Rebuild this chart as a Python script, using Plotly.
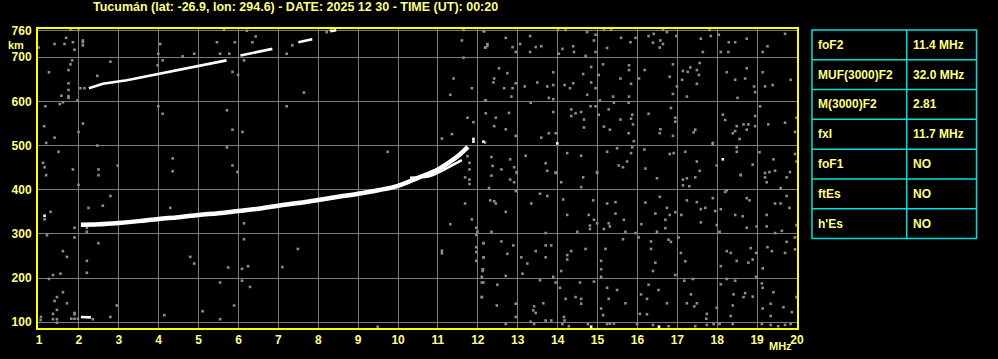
import plotly.graph_objects as go

# ---------------- data ----------------
title_text = "Tucumán (lat: -26.9, lon: 294.6) - DATE: 2025 12 30 - TIME (UT): 00:20"

x_ticks = list(range(1, 21))
y_ticks = [100, 200, 300, 400, 500, 600, 700, 760]

# main F-layer echo (MHz, km)
f_trace_mhz = [2.05, 2.5, 3.0, 3.5, 4.0, 4.5, 5.0, 5.5, 6.0, 6.5, 7.0, 7.5, 8.0, 8.5,
               9.0, 9.5, 10.0, 10.5, 11.0, 11.3, 11.55, 11.75]
f_trace_km = [321, 322, 325, 329, 334, 338, 343, 347, 352, 357, 364, 370, 377, 384,
              391, 399, 409, 427, 446, 463, 480, 497]

# split (extraordinary) branch
x_trace_mhz = [10.3, 10.8, 11.1, 11.35, 11.6]
x_trace_km = [427, 431, 443, 455, 467]

# second-hop echo
f2_trace_mhz = [2.25, 2.6, 3.2, 3.7, 4.3, 4.7, 5.1, 5.5, 5.7, None,
                6.05, 6.45, 6.85, None, 7.5, 7.85, None, 8.3, 8.45]
f2_trace_km = [630, 640, 648, 657, 669, 676, 683, 690, 693, None,
               704, 711, 719, None, 734, 741, None, 759, 761]

# low echo near 2 MHz
low_mhz = [2.05, 2.3]
low_km = [112, 111]

# bright isolated returns
bright_points = [(12.14, 509), (13.99, 505), (18.14, 469), (14.84, 90), (16.54, 90),
                 (1.14, 341), (11.89, 515), (11.89, 509)]

# grey noise returns (MHz, km)
noise_points = [
    (12.14, 759), (12.24, 730), (12.24, 726), (12.7, 744), (12.87, 723), (12.95, 712), (12.2, 722),
    (13.06, 730), (13.31, 748), (13.31, 712), (13.45, 723), (13.59, 725), (14.01, 762), (14.2, 762),
    (14.03, 708), (14.12, 719), (14.39, 725), (14.41, 712), (14.74, 757), (14.95, 751), (14.95, 712),
    (14.91, 738), (14.7, 703), (15.16, 762), (15.34, 762), (15.24, 721), (15.59, 744), (15.825, 734),
    (15.95, 744), (16.28, 748), (16.41, 753), (16.39, 733), (16.575, 738), (16.64, 730), (16.64, 762),
    (16.74, 757), (16.56, 722), (16.975, 748), (17.59, 742), (17.81, 762), (17.84, 748), (17.64, 712),
    (18.04, 751), (18.29, 734), (18.45, 734), (18.74, 742), (18.09, 712), (18.28, 712), (19.14, 712),
    (19.26, 725), (19.7, 753),
    (12.2, 602), (12.53, 675), (12.74, 664), (12.41, 652), (12.39, 643), (12.66, 630), (12.87, 630),
    (12.84, 611), (12.95, 641), (13.175, 634), (13.49, 643), (13.74, 634), (13.89, 666), (13.89, 637),
    (13.78, 608), (13.89, 605), (14.175, 637), (14.31, 630), (14.39, 641), (14.64, 662), (14.74, 615),
    (14.84, 678), (14.84, 643), (14.95, 630), (15.03, 660), (15.14, 684), (15.06, 602), (15.39, 611),
    (15.575, 652), (15.79, 682), (15.79, 671), (15.84, 640), (15.79, 611), (16.04, 652), (16.18, 671),
    (16.89, 684), (16.81, 656), (16.89, 617), (16.99, 634), (17.14, 669), (17.26, 667), (17.325, 677),
    (17.49, 671), (17.56, 687), (17.54, 660), (17.49, 640), (17.24, 611), (17.12, 649), (18.24, 666),
    (18.45, 649), (18.7, 652), (18.74, 675), (18.925, 634), (18.95, 621), (18.51, 608), (19.14, 666),
    (19.2, 634), (19.39, 637), (19.84, 649),
    (12.2, 573), (12.45, 563), (12.41, 544), (12.78, 574), (12.7, 537), (12.95, 522), (13.325, 597),
    (13.59, 518), (13.78, 528), (13.89, 576), (13.95, 528), (14.34, 582), (14.34, 567), (14.45, 573),
    (14.59, 576), (14.66, 559), (14.66, 541), (14.825, 589), (14.95, 589), (15.03, 570), (15.16, 543),
    (15.28, 582), (15.31, 536), (15.41, 597), (15.575, 559), (15.78, 597), (15.84, 561), (15.89, 548),
    (15.87, 570), (15.78, 528), (15.91, 510), (16.28, 572), (16.575, 537), (16.56, 528), (16.84, 585),
    (16.95, 563), (16.95, 554), (16.89, 522), (17.41, 530), (17.45, 536), (17.89, 506), (18.14, 570),
    (18.2, 558), (18.49, 544), (18.66, 548), (18.78, 548), (18.95, 544), (18.95, 567), (18.45, 533),
    (18.39, 528), (18.56, 515), (18.74, 536), (19.075, 589), (19.28, 548), (19.7, 552), (19.95, 531),
    (19.99, 563),
    (12.34, 474), (12.37, 454), (12.59, 446), (12.81, 469), (12.91, 451), (12.975, 440), (13.2, 477),
    (13.7, 460), (13.74, 443), (13.95, 439), (14.24, 483), (14.59, 477), (14.99, 440), (15.24, 486),
    (15.49, 494), (15.53, 455), (15.64, 451), (15.74, 464), (15.84, 483), (15.87, 496), (16.175, 491),
    (16.2, 448), (16.81, 481), (16.91, 483), (17.2, 486), (17.49, 464), (17.56, 443), (17.89, 504),
    (17.99, 455), (18.49, 486), (18.49, 496), (18.59, 434), (18.89, 457), (19.06, 485), (19.2, 438),
    (19.31, 440), (19.41, 469), (19.45, 443), (19.825, 440), (19.95, 481), (19.99, 464),
    (12.34, 432), (12.81, 423), (12.91, 417), (12.975, 438), (12.28, 404), (12.95, 397), (13.95, 438),
    (14.09, 417), (14.59, 406), (14.64, 428), (14.99, 438), (16.49, 426), (17.14, 423), (17.24, 426),
    (17.14, 410), (17.45, 428), (17.3, 408), (18.59, 433), (19.2, 428), (19.74, 428), (19.24, 417),
    (19.59, 404),
    (12.31, 376), (12.41, 374), (12.45, 369), (12.7, 350), (13.34, 369), (13.56, 391), (13.74, 386),
    (12.34, 305), (13.7, 302), (14.14, 378), (14.24, 343), (14.49, 305), (14.78, 343), (14.89, 376),
    (14.91, 332), (14.99, 324), (14.81, 319), (14.81, 311), (15.24, 369), (15.45, 372), (15.45, 346),
    (15.28, 324), (15.31, 317), (15.66, 332), (15.16, 311), (15.7, 305), (15.95, 302), (16.2, 371),
    (16.1, 322), (16.45, 346), (16.56, 384), (16.74, 359), (16.81, 343), (16.7, 332), (16.7, 313),
    (16.95, 349), (16.49, 305), (17.1, 343), (17.24, 376), (17.49, 372), (17.59, 356), (17.7, 359),
    (17.89, 381), (17.95, 352), (17.59, 326), (17.99, 320), (18.06, 305), (18.24, 399), (18.2, 395),
    (18.09, 356), (18.45, 343), (18.64, 340), (18.74, 381), (18.81, 376), (18.74, 314), (18.99, 317),
    (19.24, 343), (19.24, 317), (19.45, 369), (19.59, 369), (19.74, 386), (19.81, 359), (19.45, 302),
    (19.62, 307), (19.99, 320),
    (12.14, 279), (12.59, 283), (12.89, 274), (12.74, 255), (12.14, 247), (12.12, 220), (12.12, 216),
    (12.7, 205), (13.09, 247), (13.24, 233), (13.12, 210), (13.45, 261), (13.7, 274), (13.84, 274),
    (13.7, 247), (13.89, 203), (14.34, 261), (14.24, 252), (14.24, 242), (14.09, 216), (14.7, 266),
    (15.2, 266), (15.09, 239), (15.09, 220), (15.09, 203), (15.64, 288), (16.03, 292), (16.34, 283),
    (16.34, 266), (16.78, 287), (16.84, 282), (16.45, 235), (16.39, 216), (16.95, 207), (17.03, 292),
    (17.09, 257), (17.2, 238), (18.24, 261), (18.34, 257), (18.09, 227), (18.49, 239), (18.84, 268),
    (18.89, 242), (18.78, 235), (18.975, 257), (18.975, 203), (19.14, 222), (19.26, 270), (19.37, 261),
    (19.7, 257), (19.74, 282), (19.95, 265), (19.95, 292),
    (12.14, 190), (12.49, 185), (12.1, 157), (12.475, 138), (12.95, 142), (12.95, 112), (13.56, 195),
    (13.95, 190), (14.06, 178), (13.41, 136), (13.39, 127), (13.45, 121), (13.64, 143), (13.325, 101),
    (13.7, 104), (13.84, 104), (14.16, 112), (14.175, 104), (14.2, 153), (14.45, 157), (14.59, 153),
    (14.59, 142), (14.56, 190), (14.91, 192), (15.24, 178), (15.49, 173), (15.28, 153), (15.09, 131),
    (15.14, 116), (15.7, 143), (15.31, 97), (16.09, 163), (16.24, 153), (16.28, 185), (16.53, 173),
    (16.06, 119), (16.24, 118), (16.74, 143), (17.175, 194), (17.39, 198), (17.34, 163), (17.24, 143),
    (17.49, 143), (17.425, 136), (17.74, 119), (17.99, 133), (17.725, 108), (18.09, 186), (18.24, 198),
    (18.45, 194), (18.41, 163), (18.7, 166), (18.89, 158), (18.66, 157), (18.39, 138), (18.34, 114),
    (19.12, 188), (19.14, 178), (19.41, 168), (19.34, 142), (19.14, 131), (19.66, 134), (19.34, 114),
    (19.87, 123), (19.99, 157),
    (12.7, 96), (13.41, 96), (14.12, 96), (14.28, 91), (14.76, 96), (15.24, 96), (15.41, 97),
    (15.99, 96), (16.39, 94), (16.78, 91), (17.45, 91), (17.74, 94), (17.91, 96), (18.06, 96),
    (18.39, 96), (19.12, 96), (19.34, 94), (19.53, 91), (19.7, 94), (19.84, 96),
    (1.79, 762), (1.99, 762), (2.1, 738), (2.1, 734), (2.1, 727), (1.85, 734), (1.68, 744), (1.39, 730),
    (1.64, 730), (1.89, 717), (0.99, 722), (1.83, 693), (1.79, 684), (1.74, 671), (1.25, 666),
    (1.74, 641), (1.74, 626), (1.74, 608), (1.74, 612), (1.56, 613), (1.52, 594), (1.6, 598),
    (1.96, 602), (1.16, 589), (2.04, 630), (2.14, 630), (2.46, 658), (2.79, 690), (4.04, 730),
    (3.99, 708), (4.1, 693), (3.975, 682), (4.89, 708), (4.6, 702), (5.46, 734), (5.54, 708),
    (5.77, 708), (5.64, 762), (5.91, 734), (6.21, 760), (6.35, 734), (6.43, 747), (6.14, 693),
    (5.85, 667), (5.99, 660), (7.21, 708), (7.35, 727), (7.64, 620), (8.21, 757), (8.31, 762),
    (11.64, 762), (12.16, 759), (12.18, 722), (11.6, 738), (11.64, 699), (11.39, 652), (11.85, 630),
    (11.31, 615), (12.18, 602), (7.21, 589), (5.71, 580), (4.1, 572), (3.99, 589), (2.1, 550),
    (1.99, 531), (1.13, 544), (1.39, 518), (1.18, 506), (2.46, 500), (1.49, 486), (1.1, 461),
    (1.14, 451), (2.49, 446), (1.85, 446), (2.975, 455), (4.35, 471), (4.35, 442), (5.71, 496),
    (5.85, 455), (5.975, 440), (5.85, 536), (6.1, 531), (9.74, 486), (11.74, 563), (11.89, 553),
    (11.35, 526), (11.1, 516), (12.18, 507), (11.79, 461), (11.79, 446), (11.74, 476),
    (1.18, 433), (2.49, 433), (1.99, 411), (2.79, 386), (2.6, 364), (2.24, 359), (1.29, 350),
    (1.14, 333), (1.89, 314), (2.2, 314), (2.2, 305), (4.29, 359), (6.14, 324), (6.14, 288),
    (7.49, 266), (7.1, 225), (6.24, 227), (6.09, 221), (5.74, 224), (4.89, 233), (4.79, 248),
    (1.2, 297), (1.89, 292), (2.49, 279), (1.6, 261), (1.7, 248), (2.2, 239), (2.2, 212),
    (1.54, 210), (1.35, 207), (1.25, 198), (5.54, 190), (6.09, 194), (6.29, 180), (5.89, 138),
    (5.1, 125), (5.54, 107), (4.14, 116), (2.95, 138), (2.79, 112), (1.6, 168), (1.45, 157),
    (1.39, 148), (1.7, 143), (1.45, 128), (1.35, 119), (1.35, 107), (1.45, 107), (1.45, 99),
    (1.04, 105), (1.89, 118), (2.35, 107), (9.49, 90), (11.68, 428), (11.79, 423), (11.79, 413),
    (11.68, 369), (11.85, 333), (11.31, 322), (11.96, 314), (11.99, 305), (11.96, 298),
    (12.14, 279), (11.1, 262), (11.1, 256), (11.96, 270), (11.96, 259), (12.14, 247),
    (11.96, 239), (12.13, 220), (12.1, 203), (12.1, 190), (12.1, 157),
    (1.81, 108), (1.89, 108), (1.975, 108), (1.89, 121), (1.05, 112),
]

# parameters table
param_names = ["foF2", "MUF(3000)F2", "M(3000)F2", "fxI", "foF1", "ftEs", "h'Es"]
param_values = ["11.4 MHz", "32.0 MHz", "2.81", "11.7 MHz", "NO", "NO", "NO"]

# ---------------- styling ----------------
TXT = "#FFFF80"
BORDER = "#FFFF00"
CYAN = "#00E0E0"
GRID = "#7A7A7A"
NOISE = "#8C8C8C"
FONT = "Liberation Sans, Arial, sans-serif"

W, H = 998, 359
ML, MR, MT, MB = 36, 201, 29, 26
PW, PH = W - ML - MR, H - MT - MB


def px_to_paper(px, py):
    return (px - ML) / PW, (H - MB - py) / PH


fig = go.Figure()

fig.add_trace(go.Scatter(
    x=[p[0] for p in noise_points], y=[p[1] for p in noise_points],
    mode="markers", marker=dict(symbol="square", size=2.6, color=NOISE, line=dict(width=0)),
    hoverinfo="skip", showlegend=False))

fig.add_trace(go.Scatter(
    x=[p[0] for p in bright_points], y=[p[1] for p in bright_points],
    mode="markers", marker=dict(symbol="square", size=2.6, color="white", line=dict(width=0)),
    hoverinfo="skip", showlegend=False))

fig.add_trace(go.Scatter(x=f_trace_mhz, y=f_trace_km, mode="lines",
                         line=dict(color="white", width=4.5, shape="spline"),
                         hoverinfo="skip", showlegend=False))
fig.add_trace(go.Scatter(x=x_trace_mhz, y=x_trace_km, mode="lines",
                         line=dict(color="white", width=2.5, shape="spline"),
                         hoverinfo="skip", showlegend=False))
fig.add_trace(go.Scatter(x=f2_trace_mhz, y=f2_trace_km, mode="lines",
                         line=dict(color="white", width=2.6),
                         hoverinfo="skip", showlegend=False, connectgaps=False))
fig.add_trace(go.Scatter(x=low_mhz, y=low_km, mode="lines",
                         line=dict(color="white", width=2.6),
                         hoverinfo="skip", showlegend=False))

fig.update_xaxes(
    range=[0.975, 20.0], tickmode="array", tickvals=x_ticks, ticktext=[str(v) for v in x_ticks],
    showgrid=True, gridcolor=GRID, gridwidth=1, zeroline=False,
    showline=True, mirror=True, linecolor=BORDER, linewidth=2,
    ticks="", tickfont=dict(family=FONT, size=12, color=TXT, weight="bold"),
    fixedrange=True)
fig.update_yaxes(
    range=[87, 764], tickmode="array", tickvals=y_ticks, ticktext=[str(v) for v in y_ticks],
    showgrid=True, gridcolor=GRID, gridwidth=1, zeroline=False,
    showline=True, mirror=True, linecolor=BORDER, linewidth=2,
    ticks="", ticklabelstandoff=2,
    tickfont=dict(family=FONT, size=12, color=TXT, weight="bold"),
    fixedrange=True)

annotations = []
# title
tx, ty = px_to_paper(294, 7)
annotations.append(dict(text=title_text, xref="paper", yref="paper", x=tx, y=ty,
                        xanchor="center", yanchor="middle", showarrow=False,
                        font=dict(family=FONT, size=12.5, color=TXT, weight="bold")))
# axis unit labels
kx, ky = px_to_paper(14, 45)
annotations.append(dict(text="km", xref="paper", yref="paper", x=kx, y=ky,
                        xanchor="center", yanchor="middle", showarrow=False,
                        font=dict(family=FONT, size=11, color=TXT, weight="bold")))
mx, my = px_to_paper(780, 351)
annotations.append(dict(text="MHz", xref="paper", yref="paper", x=mx, y=my,
                        xanchor="center", yanchor="middle", showarrow=False,
                        font=dict(family=FONT, size=11, color=TXT, weight="bold")))

# table
shapes = []
T_LEFT, T_DIV, T_RIGHT = 812, 907, 977
T_TOP, T_BOT = 30, 242
n = len(param_names)
row_h = (T_BOT - T_TOP) / n
x0, y0 = px_to_paper(T_LEFT, T_BOT)
x1, y1 = px_to_paper(T_RIGHT, T_TOP)
shapes.append(dict(type="rect", xref="paper", yref="paper", x0=x0, y0=y0, x1=x1, y1=y1,
                   line=dict(color=CYAN, width=1.5), fillcolor="black", layer="above"))
xd, _ = px_to_paper(T_DIV, 0)
shapes.append(dict(type="line", xref="paper", yref="paper", x0=xd, x1=xd, y0=y0, y1=y1,
                   line=dict(color=CYAN, width=1.5)))
for i in range(1, n):
    _, yy = px_to_paper(0, T_TOP + i * row_h)
    shapes.append(dict(type="line", xref="paper", yref="paper", x0=x0, x1=x1, y0=yy, y1=yy,
                       line=dict(color=CYAN, width=1.5)))
for i, (nm, val) in enumerate(zip(param_names, param_values)):
    cy = T_TOP + (i + 0.5) * row_h
    ax, ay = px_to_paper(T_LEFT + 4, cy)
    annotations.append(dict(text=nm, xref="paper", yref="paper", x=ax, y=ay,
                            xanchor="left", yanchor="middle", showarrow=False,
                            font=dict(family=FONT, size=12, color=TXT, weight="bold")))
    bx, by = px_to_paper(T_DIV + 4, cy)
    annotations.append(dict(text=val, xref="paper", yref="paper", x=bx, y=by,
                            xanchor="left", yanchor="middle", showarrow=False,
                            font=dict(family=FONT, size=12, color=TXT, weight="bold")))

fig.update_layout(
    width=W, height=H, margin=dict(l=ML, r=MR, t=MT, b=MB, pad=0),
    paper_bgcolor="black", plot_bgcolor="black",
    showlegend=False, annotations=annotations, shapes=shapes,
    font=dict(family=FONT, color=TXT))

fig.write_html("out.html", config={"displayModeBar": False})
